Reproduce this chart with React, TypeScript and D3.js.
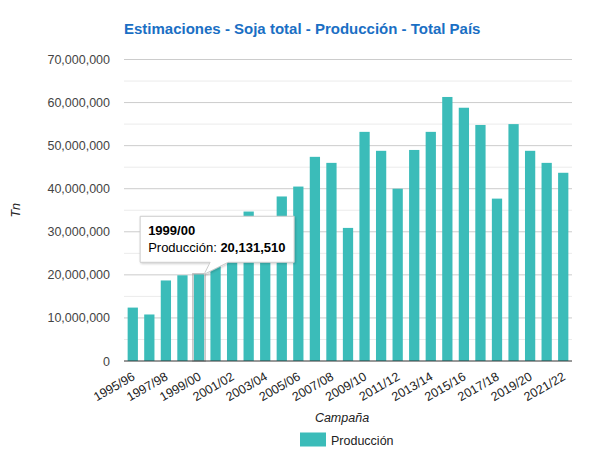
import React from "react";
import * as d3 from "d3";

const campaigns = [
  "1995/96","1996/97","1997/98","1998/99","1999/00","2000/01","2001/02","2002/03","2003/04",
  "2004/05","2005/06","2006/07","2007/08","2008/09","2009/10","2010/11","2011/12","2012/13",
  "2013/14","2014/15","2015/16","2016/17","2017/18","2018/19","2019/20","2020/21","2021/22",
];
const produccion = [
  12400000, 10800000, 18700000, 19900000, 20131510, 26900000, 30000000, 34700000, 31600000,
  38200000, 40500000, 47400000, 46000000, 30900000, 53200000, 48800000, 40000000, 49000000,
  53200000, 61300000, 58800000, 54800000, 37700000, 55000000, 48800000, 46000000, 43700000,
];
const yTicks = [0, 10000000, 20000000, 30000000, 40000000, 50000000, 60000000, 70000000];
const minorTicks = [5000000, 15000000, 25000000, 35000000, 45000000, 55000000, 65000000];
const highlighted = "1999/00";

const FONT = "Arial, 'Liberation Sans', sans-serif";
const BAR = "#3bbcb9";

export default function App() {
  const W = 592, H = 458;
  const left = 124, right = 572, top = 59.5, bottom = 361;
  const x = d3.scaleBand<string>().domain(campaigns).range([left, right]).paddingInner(0.38).paddingOuter(0.22);
  const y = d3.scaleLinear().domain([0, 70000000]).range([bottom, top]);
  const fmt = d3.format(",");
  const hi = campaigns.indexOf(highlighted);
  const hx = (x(highlighted) as number) + x.bandwidth();
  const hy = y(produccion[hi]);
  const bx = hx - 64, by = hy - 58, bw = 154, bh = 46;

  return (
    <svg width={W} height={H} style={{ position: "absolute", left: 0, top: 0, background: "#fff" }} fontFamily={FONT}>
      <defs>
        <filter id="sh" x="-10%" y="-10%" width="130%" height="140%">
          <feDropShadow dx="1" dy="1" stdDeviation="1.2" floodColor="#000" floodOpacity="0.2" />
        </filter>
      </defs>
      <text x={left} y={34} fontSize={15} fontWeight="bold" fill="#1a6fc4">
        Estimaciones - Soja total - Producción - Total País
      </text>
      {minorTicks.map((t) => (
        <line key={"m" + t} x1={left} x2={right} y1={y(t)} y2={y(t)} stroke="#ebebeb" />
      ))}
      {yTicks.filter((t) => t > 0).map((t) => (
        <line key={"g" + t} x1={left} x2={right} y1={y(t)} y2={y(t)} stroke="#cccccc" />
      ))}
      {yTicks.map((t) => (
        <text key={"l" + t} x={110} y={y(t) + 4.5} textAnchor="end" fontSize={12.5} fill="#444">
          {fmt(t)}
        </text>
      ))}
      {campaigns.map((c, i) => (
        <rect key={c} x={x(c)} y={y(produccion[i])} width={x.bandwidth()} height={bottom - y(produccion[i])} fill={BAR} />
      ))}
      <rect
        x={(x(highlighted) as number) - 1}
        y={hy - 0.5}
        width={x.bandwidth() + 2}
        height={bottom - hy + 0.5}
        fill="none"
        stroke="#999"
        strokeOpacity={0.6}
        strokeWidth={1.5}
      />
      <line x1={left} x2={right} y1={bottom} y2={bottom} stroke="#333" />
      {campaigns.filter((_, i) => i % 2 === 0).map((c) => (
        <text
          key={"x" + c}
          transform={`translate(${(x(c) as number) + x.bandwidth() / 2 + 3},${bottom + 18}) rotate(-30)`}
          textAnchor="end"
          fontSize={12.5}
          fill="#222"
        >
          {c}
        </text>
      ))}
      <text x={342} y={422} textAnchor="middle" fontSize={12.5} fontStyle="italic" fill="#222">
        Campaña
      </text>
      <text transform={`translate(20,${(top + bottom) / 2}) rotate(-90)`} textAnchor="middle" fontSize={12.5} fontStyle="italic" fill="#222">
        Tn
      </text>
      <rect x={300} y={432.5} width={26} height={14} fill={BAR} />
      <text x={331} y={445} fontSize={12.5} fill="#222">
        Producción
      </text>
      <g filter="url(#sh)">
        <path
          d={`M${bx},${by} H${bx + bw} V${by + bh} H${hx + 24} L${hx},${hy} L${hx + 6},${by + bh} H${bx} Z`}
          fill="#fff"
          stroke="#cccccc"
        />
      </g>
      <text x={bx + 8} y={by + 19} fontSize={13} fontWeight="bold" fill="#000">
        {highlighted}
      </text>
      <text x={bx + 8} y={by + 35.5} fontSize={13} fill="#000">
        Producción: <tspan fontWeight="bold">{fmt(produccion[hi])}</tspan>
      </text>
    </svg>
  );
}
